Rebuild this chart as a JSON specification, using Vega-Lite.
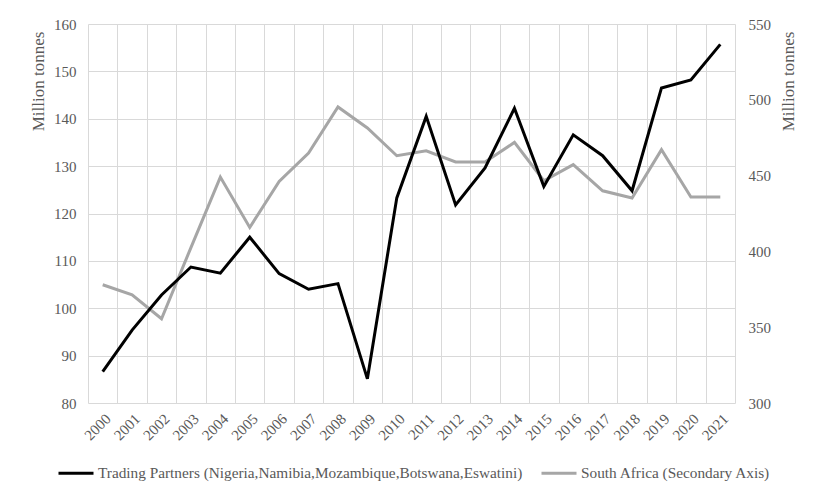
{
  "$schema": "https://vega.github.io/schema/vega-lite/v6.json",
  "autosize": {"type": "none"},
  "width": 647,
  "height": 379,
  "padding": {"left": 88, "top": 24, "right": 86, "bottom": 95},
  "background": "white",
  "config": {
    "view": {"stroke": null},
    "font": "'Liberation Serif', 'Times New Roman', serif",
    "axis": {
      "labelFont": "'Liberation Serif', 'Times New Roman', serif",
      "titleFont": "'Liberation Serif', 'Times New Roman', serif",
      "labelFontSize": 15,
      "titleFontSize": 17,
      "titleFontWeight": "normal",
      "labelColor": "#595959",
      "titleColor": "#595959",
      "domain": false,
      "ticks": false,
      "gridColor": "#d9d9d9",
      "gridWidth": 1
    },
    "legend": {
      "labelFont": "'Liberation Serif', 'Times New Roman', serif",
      "labelFontSize": 15.3,
      "labelColor": "#595959",
      "labelLimit": 0
    }
  },
  "data": {
    "values": [
      {"year": "2000", "tp": 86.6, "sa": 378},
      {"year": "2001", "tp": 95.4, "sa": 371.4},
      {"year": "2002", "tp": 102.8, "sa": 355.6},
      {"year": "2003", "tp": 108.7, "sa": 402.5},
      {"year": "2004", "tp": 107.4, "sa": 449},
      {"year": "2005", "tp": 115.0, "sa": 415.8},
      {"year": "2006", "tp": 107.3, "sa": 446.2},
      {"year": "2007", "tp": 104.0, "sa": 464.9},
      {"year": "2008", "tp": 105.2, "sa": 495.3},
      {"year": "2009", "tp": 85.1, "sa": 481.4},
      {"year": "2010", "tp": 123.3, "sa": 463.1},
      {"year": "2011", "tp": 140.5, "sa": 466.4},
      {"year": "2012", "tp": 121.8, "sa": 459},
      {"year": "2013", "tp": 129.6, "sa": 459},
      {"year": "2014", "tp": 142.2, "sa": 471.9},
      {"year": "2015", "tp": 125.7, "sa": 446.6},
      {"year": "2016", "tp": 136.6, "sa": 457.2},
      {"year": "2017", "tp": 132.2, "sa": 440},
      {"year": "2018", "tp": 124.8, "sa": 435.2},
      {"year": "2019", "tp": 146.5, "sa": 467.1},
      {"year": "2020", "tp": 148.2, "sa": 435.9},
      {"year": "2021", "tp": 155.7, "sa": 435.9}
    ]
  },
  "encoding": {
    "x": {
      "field": "year",
      "type": "ordinal",
      "bandPosition": 0.5,
      "scale": {"type": "band", "paddingInner": 0, "paddingOuter": 0},
      "axis": {
        "title": null,
        "labelAngle": -45,
        "labelPadding": 8,
        "grid": true,
        "tickBand": "extent"
      }
    },
    "color": {
      "scale": {
        "domain": ["Trading Partners (Nigeria,Namibia,Mozambique,Botswana,Eswatini)", "South Africa (Secondary Axis)"],
        "range": ["#000000", "#a6a6a6"]
      },
      "legend": {
        "title": null,
        "orient": "none",
        "legendX": -31,
        "legendY": 430,
        "direction": "horizontal",
        "symbolType": "stroke",
        "symbolSize": 1225,
        "symbolStrokeWidth": 3,
        "columnPadding": 12,
        "labelOffset": 3
      }
    }
  },
  "layer": [
    {
      "mark": {"type": "line", "strokeWidth": 3},
      "encoding": {
        "y": {
          "field": "sa",
          "type": "quantitative",
          "scale": {"domain": [300, 550], "nice": false, "zero": false},
          "axis": {
            "orient": "right",
            "title": "Million tonnes",
            "titleAngle": -90,
            "titleAlign": "center",
            "titleBaseline": "middle",
            "titleX": 53,
            "titleY": 57,
            "values": [300, 350, 400, 450, 500, 550],
            "grid": false,
            "labelPadding": 13
          }
        },
        "color": {"datum": "South Africa (Secondary Axis)"}
      }
    },
    {
      "mark": {"type": "line", "strokeWidth": 3},
      "encoding": {
        "y": {
          "field": "tp",
          "type": "quantitative",
          "scale": {"domain": [80, 160], "nice": false, "zero": false},
          "axis": {
            "orient": "left",
            "title": "Million tonnes",
            "titleAngle": -90,
            "titleAlign": "center",
            "titleBaseline": "middle",
            "titleX": -50,
            "titleY": 57,
            "values": [80, 90, 100, 110, 120, 130, 140, 150, 160],
            "grid": true,
            "labelPadding": 12
          }
        },
        "color": {"datum": "Trading Partners (Nigeria,Namibia,Mozambique,Botswana,Eswatini)"}
      }
    }
  ],
  "resolve": {"scale": {"y": "independent"}}
}
